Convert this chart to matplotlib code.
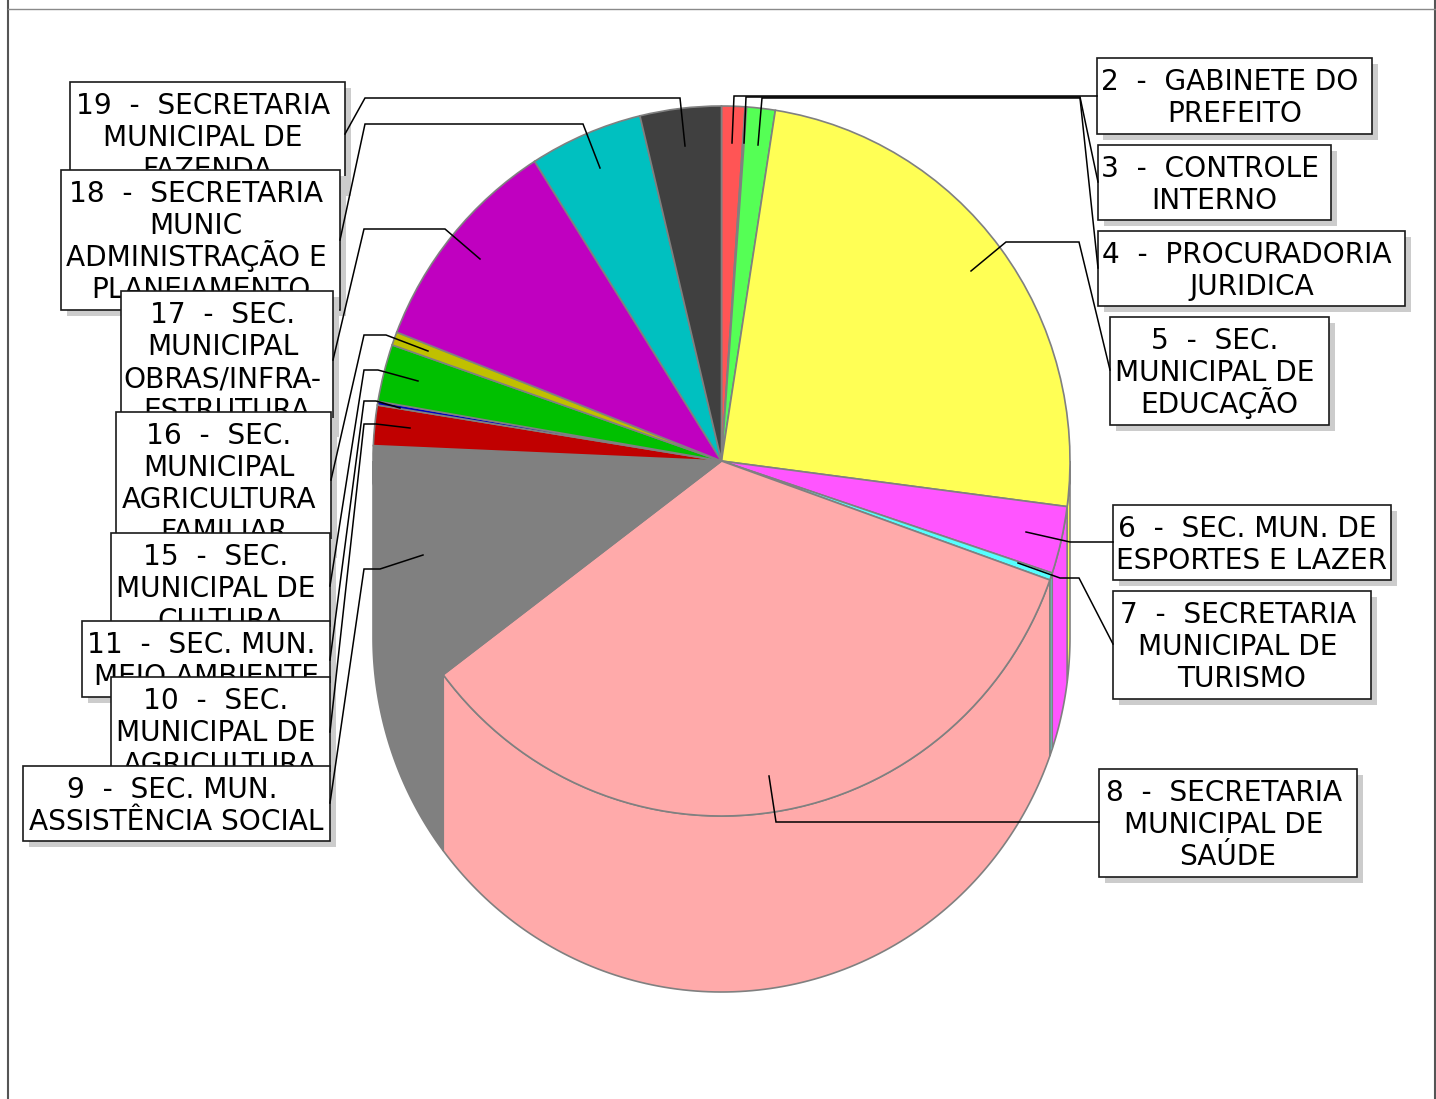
import numpy as np
import matplotlib
matplotlib.use("Agg")
import matplotlib.pyplot as plt
from matplotlib.patches import Rectangle

plt.rcParams['font.family'] = ['DejaVu Sans']

W, H = 1436, 1099

# ---- data -------------------------------------------------------------
labels = [
    "2  -  GABINETE DO\nPREFEITO",
    "3  -  CONTROLE\nINTERNO",
    "4  -  PROCURADORIA\nJURIDICA",
    "5  -  SEC.\nMUNICIPAL DE\nEDUCAÇÃO",
    "6  -  SEC. MUN. DE\nESPORTES E LAZER",
    "7  -  SECRETARIA\nMUNICIPAL DE\nTURISMO",
    "8  -  SECRETARIA\nMUNICIPAL DE\nSAÚDE",
    "9  -  SEC. MUN.\nASSISTÊNCIA SOCIAL",
    "10  -  SEC.\nMUNICIPAL DE\nAGRICULTURA",
    "11  -  SEC. MUN.\nMEIO AMBIENTE",
    "15  -  SEC.\nMUNICIPAL DE\nCULTURA",
    "16  -  SEC.\nMUNICIPAL\nAGRICULTURA\nFAMILIAR",
    "17  -  SEC.\nMUNICIPAL\nOBRAS/INFRA-\nESTRUTURA",
    "18  -  SECRETARIA\nMUNIC\nADMINISTRAÇÃO E\nPLANEJAMENTO",
    "19  -  SECRETARIA\nMUNICIPAL DE\nFAZENDA",
]
values = [1.08, 0.07, 1.32, 24.58, 3.06, 0.33, 34.28, 10.97,
          1.83, 0.17, 2.61, 0.61, 10.08, 5.25, 3.76]
colors = ["#FF5555", "#5555FF", "#55FF55", "#FFFF55", "#FF55FF", "#55FFFF",
          "#FFAAAA", "#808080", "#C00000", "#0000C0", "#00C000", "#C0C000",
          "#C000C0", "#00C0C0", "#404040"]

# ---- layout (pixels) --------------------------------------------------
cx, cy, rx, ry, depth = 721.5, 461.0, 348.5, 355.0, 176.0
boxes = [
    (1097, 58, 1372, 134), (1098, 145, 1331, 220), (1098, 231, 1405, 306),
    (1110, 317, 1329, 425), (1113, 505, 1391, 580), (1113, 591, 1371, 699),
    (1099, 769, 1357, 877), (23, 766, 330, 841), (111, 677, 330, 785),
    (82, 621, 330, 697), (111, 533, 330, 641), (116, 412, 331, 552),
    (121, 291, 333, 431), (61, 170, 340, 310), (70, 82, 345, 190),
]
leaders = [
    [(1097, 96), (734, 96), (732, 143)],
    [(1098, 182), (1080, 97), (746, 97), (744, 143)],
    [(1098, 268), (1080, 98), (762, 98), (758, 145)],
    [(1110, 370), (1079, 242), (1006, 242), (971, 271)],
    [(1113, 542), (1070, 542), (1026, 532)],
    [(1113, 644), (1079, 578), (1060, 578), (1018, 563)],
    [(1099, 822), (776, 822), (769, 776)],
    [(330, 803), (364, 569), (380, 569), (423, 555)],
    [(330, 732), (364, 424), (376, 424), (410, 428)],
    [(330, 660), (364, 401), (376, 401), (400, 408)],
    [(330, 586), (364, 370), (378, 370), (418, 381)],
    [(331, 480), (364, 335), (386, 335), (428, 351)],
    [(333, 360), (364, 229), (445, 229), (480, 259)],
    [(340, 240), (365, 124), (583, 124), (600, 168)],
    [(345, 134), (365, 98), (680, 98), (685, 146)],
]
FS = 20.2
EDGE = "#808080"

fig = plt.figure(figsize=(W / 100, H / 100), dpi=100, facecolor="white")

# ---- pie: unit-circle data coordinates mapped onto the figure ----------
ax = fig.add_axes([0, 0, 1, 1])
ax.pie(values, colors=colors, startangle=90, counterclock=False, radius=1,
       center=(0, 0), wedgeprops=dict(edgecolor=EDGE, linewidth=1.2, zorder=3))
ax.set_aspect('auto')
ax.set_xlim(-cx / rx, (W - cx) / rx)
ax.set_ylim((cy - H) / ry, cy / ry)
ax.axis('off')

# extruded front wall of every slice that faces the viewer
d = depth / ry
edges = np.concatenate([[0], np.cumsum(values)]) / np.sum(values) * 2 * np.pi
for a0, a1, col in zip(edges[:-1], edges[1:], colors):
    lo, hi = max(a0, np.pi / 2), min(a1, 3 * np.pi / 2)
    if hi <= lo:
        continue
    t = np.linspace(lo, hi, 120)
    xs, ys = np.sin(t), np.cos(t)
    ax.fill(np.r_[xs, xs[::-1]], np.r_[ys, ys[::-1] - d],
            facecolor=col, edgecolor=EDGE, linewidth=1.2, zorder=1)

# ---- overlay in pixel coordinates --------------------------------------
ov = fig.add_axes([0, 0, 1, 1], zorder=5)
ov.set_xlim(0, W)
ov.set_ylim(H, 0)
ov.axis('off')
ov.patch.set_alpha(0)

ov.plot([7.9, 7.9], [0, H], color="#555555", lw=1.5, zorder=1, solid_capstyle='butt')
ov.plot([1435.2, 1435.2], [0, H], color="#555555", lw=1.5, zorder=1, solid_capstyle='butt')
ov.plot([8, 1435], [8.5, 8.5], color="#8A8A8A", lw=1, zorder=1)

# stacking: right column free of overlap, left column 19 lowest ... 9 highest
order = list(range(7)) + list(range(14, 6, -1))
for rank, i in enumerate(order):
    x0, y0, x1, y1 = boxes[i]
    z = 10 + rank * 3
    ov.add_patch(Rectangle((x0 + 6, y0 + 6), x1 - x0, y1 - y0,
                           facecolor="#CCCCCC", edgecolor="none", zorder=z))
    ov.add_patch(Rectangle((x0, y0), x1 - x0, y1 - y0, facecolor="white",
                           edgecolor="#1a1a1a", linewidth=1.2, zorder=z + 1))
    lines = labels[i].split("\n")
    mid = (x0 + x1) / 2
    for k, line in enumerate(lines):
        shift = -4.4 if k < len(lines) - 1 else 0
        ov.text(mid + shift, y0 + 32.3 + 32 * k, line, fontsize=FS, ha="center",
                va="baseline", color="black", zorder=z + 2)

# leader lines sit above the box shadows
for pts in leaders:
    ov.plot(*zip(*pts), color="black", lw=1.1, zorder=100, solid_joinstyle='miter')

fig.savefig("out.png", dpi=100, facecolor="white")
